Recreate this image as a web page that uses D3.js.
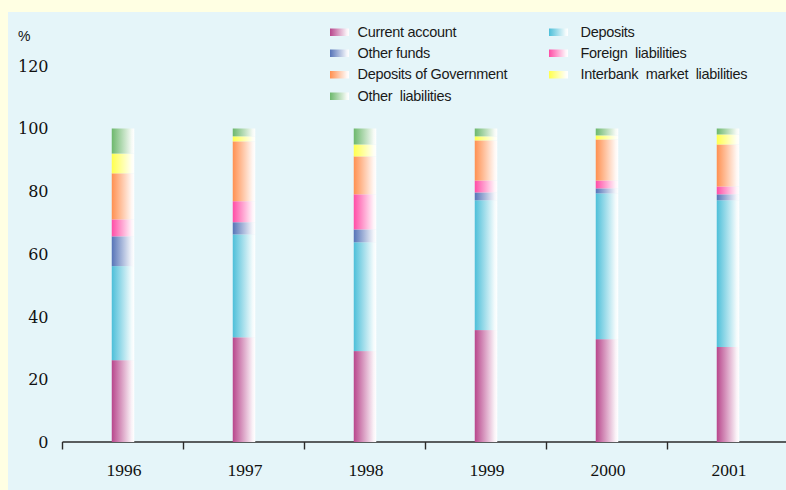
<!DOCTYPE html>
<html>
<head>
<meta charset="utf-8">
<script src="https://cdn.jsdelivr.net/npm/d3@7"></script>
<style>
  html, body { margin: 0; padding: 0; background: #FFFFE3; }
  svg { display: block; }
  .leg { white-space: pre; }
</style>
</head>
<body>
<svg id="chart" width="786" height="490"></svg>
<script>
// Structure of liabilities, share of total (%)
const years = ["1996", "1997", "1998", "1999", "2000", "2001"];
const seriesNames = [
  "Current account", "Deposits", "Other funds", "Foreign  liabilities",
  "Deposits of Government", "Interbank  market  liabilities", "Other  liabilities"
];
const currentAccount   = [26.1, 33.4, 29.0, 35.7, 32.8, 30.3];
const deposits         = [30.0, 32.8, 34.7, 41.4, 46.5, 46.8];
const otherFunds       = [9.5, 3.9, 4.1, 2.5, 1.6, 1.9];
const foreignLiab      = [5.4, 6.7, 11.2, 3.8, 2.5, 2.5];
const depositsGov      = [14.7, 19.1, 12.1, 12.8, 13.1, 13.4];
const interbankLiab    = [6.3, 1.6, 3.8, 1.3, 1.3, 3.2];
const otherLiab        = [8.0, 2.5, 5.1, 2.5, 2.2, 1.9];
const yTicks = [0, 20, 40, 60, 80, 100, 120];

const seriesValues = [currentAccount, deposits, otherFunds, foreignLiab,
                      depositsGov, interbankLiab, otherLiab];
const seriesColors = ["#B8468C", "#4DBFD9", "#5674B8", "#FF4DA6",
                      "#FF9050", "#FFFF4D", "#6DB86D"];

const svg = d3.select("#chart");
const W = 786, H = 490;

// Page and plot panel
svg.append("rect").attr("width", W).attr("height", H).attr("fill", "#FFFFE3");
svg.append("rect").attr("x", 8).attr("y", 12).attr("width", W - 8).attr("height", H - 12)
  .attr("fill", "#E5F5F9");

// Horizontal fade-to-white gradients
const defs = svg.append("defs");
seriesColors.forEach((c, i) => {
  const g = defs.append("linearGradient").attr("id", "grad" + i)
    .attr("x1", "0%").attr("x2", "100%").attr("y1", "0%").attr("y2", "0%");
  g.append("stop").attr("offset", "0%").attr("stop-color", c);
  g.append("stop").attr("offset", "88%").attr("stop-color", d3.interpolateRgb(c, "#ffffff")(0.93));
  g.append("stop").attr("offset", "100%").attr("stop-color", "#ffffff");
});

// Scales
const x = d3.scaleBand().domain(years).range([62.5, 788.5]).padding(0);
const barW = 22.5;
const y = d3.scaleLinear().domain([0, 120]).range([442, 65.8]);

// Stacked data
const table = years.map((yr, j) => {
  const row = { year: yr };
  seriesNames.forEach((s, i) => row[s] = seriesValues[i][j]);
  return row;
});
const stacked = d3.stack().keys(seriesNames)(table);

// Y labels (no axis line)
svg.append("g").selectAll("text").data(yTicks).join("text")
  .attr("x", 48.5).attr("y", d => y(d)).attr("dy", "0.37em")
  .attr("text-anchor", "end")
  .attr("font-family", "'DejaVu Serif', serif").attr("font-size", 16)
  .attr("fill", "#111").text(d => d);
svg.append("text").attr("x", 18).attr("y", 40.5)
  .attr("font-family", "'Liberation Sans', Arial, sans-serif").attr("font-size", 14)
  .attr("fill", "#111").text("%");

// X axis: baseline, boundary ticks, centered year labels
const axisG = svg.append("g");
axisG.append("line").attr("x1", 62.5).attr("x2", W).attr("y1", y(0)).attr("y2", y(0))
  .attr("stroke", "#2a2a2a").attr("stroke-width", 1.6);
axisG.selectAll("line.tick").data(years).join("line").attr("class", "tick")
  .attr("x1", d => x(d)).attr("x2", d => x(d))
  .attr("y1", y(0)).attr("y2", y(0) + 7.5)
  .attr("stroke", "#2a2a2a").attr("stroke-width", 1.4);
axisG.selectAll("text").data(years).join("text")
  .attr("x", d => x(d) + x.bandwidth() / 2 + 1).attr("y", 476)
  .attr("text-anchor", "middle")
  .attr("font-family", "'Liberation Serif', serif").attr("font-size", 17.5)
  .attr("fill", "#111").text(d => d);

// Bars
svg.append("g").selectAll("g").data(stacked).join("g")
  .attr("fill", (d, i) => `url(#grad${i})`)
  .selectAll("rect").data(d => d).join("rect")
  .attr("x", d => x(d.data.year) + (x.bandwidth() - barW) / 2)
  .attr("width", barW)
  .attr("y", d => y(d[1]))
  .attr("height", d => y(d[0]) - y(d[1]));

// Legend: two columns, row-major
const legend = svg.append("g");
const colX = [330, 549];
const textOff = [27.5, 31.5];
const rowY = [32, 53, 74.5, 96];
seriesNames.forEach((s, i) => {
  const c = i % 2, cy = rowY[Math.floor(i / 2)];
  legend.append("rect").attr("x", colX[c]).attr("y", cy - 3.5).attr("width", 19).attr("height", 7.5)
    .attr("fill", `url(#grad${i})`);
  legend.append("text").attr("class", "leg").attr("x", colX[c] + textOff[c]).attr("y", cy + 4.8)
    .attr("font-family", "'Liberation Sans', Arial, sans-serif").attr("font-size", 14.5)
    .attr("letter-spacing", -0.3)
    .attr("fill", "#1a1a1a").text(s);
});
</script>
</body>
</html>
